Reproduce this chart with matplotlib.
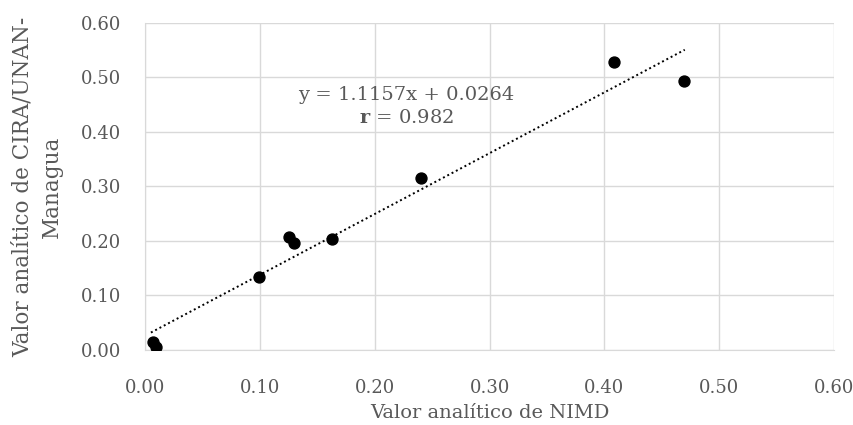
import matplotlib
matplotlib.use("Agg")
import matplotlib.pyplot as plt
import numpy as np

nimd = [0.007, 0.009, 0.099, 0.125, 0.130, 0.163, 0.240, 0.408, 0.469]
cira = [0.015, 0.005, 0.134, 0.208, 0.196, 0.203, 0.315, 0.528, 0.493]
slope, intercept = 1.1157, 0.0264
ticks = [0.0, 0.1, 0.2, 0.3, 0.4, 0.5, 0.6]

plt.rcParams['font.family'] = ['DejaVu Serif']
plt.rcParams['mathtext.fontset'] = 'dejavuserif'
fig = plt.figure(figsize=(8.54, 4.25), dpi=100)
ax = fig.add_axes([0.17, 0.1765, 0.8066, 0.7695])

ax.set_xlim(0, 0.6)
ax.set_ylim(0, 0.6)
ax.set_xticks(ticks)
ax.set_yticks(ticks)
ax.set_xticklabels([f"{t:.2f}" for t in ticks])
ax.set_yticklabels([f"{t:.2f}" for t in ticks])
ax.grid(True, color='#d9d9d9', linewidth=1)
ax.set_axisbelow(True)
for s in ['top', 'right']:
    ax.spines[s].set_visible(False)
for s in ['left', 'bottom']:
    ax.spines[s].set_color('#d9d9d9')
ax.tick_params(length=0, colors='#595959')
ax.tick_params(axis='x', labelsize=13, pad=21)
ax.tick_params(axis='y', labelsize=13, pad=17)

xl = np.array([min(nimd) - 0.002, max(nimd) + 0.001])
ax.plot(xl, slope * xl + intercept, color='black', linestyle=(0, (1, 1.5)), linewidth=1.4)
ax.scatter(nimd, cira, s=62, color='black', zorder=3)

ax.text(0.2273, 0.468, "y = 1.1157x + 0.0264", ha='center', va='center', fontsize=14, color='#595959')
ax.text(0.2273, 0.425, r"$\mathbf{r}$ = 0.982", ha='center', va='center', fontsize=14, color='#595959')

ax.set_xlabel("Valor analítico de NIMD", fontsize=14, color='#595959')
ax.xaxis.set_label_coords(0.5, -0.165)
ax.set_ylabel("Valor analítico de CIRA/UNAN-\nManagua", fontsize=15.5, color='#595959',
              linespacing=1.4)
ax.yaxis.set_label_coords(-0.157, 0.5)
ax.yaxis.label.set_va('center')

fig.savefig("out.png", dpi=100)
